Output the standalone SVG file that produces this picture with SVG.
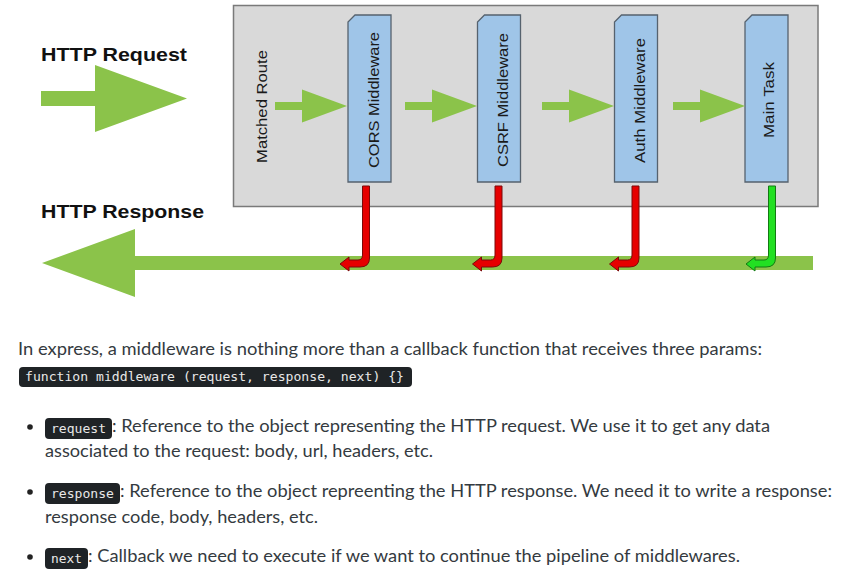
<svg xmlns="http://www.w3.org/2000/svg" width="855" height="583" viewBox="0 0 855 583">
<style>
.big{font-family:"Liberation Sans",Arial,sans-serif;font-weight:bold;font-size:19px;fill:#111}
.box{fill:#9fc5e8;stroke:#56626e;stroke-width:1.3}
.lbl{font-family:"Liberation Sans",Arial,sans-serif;font-size:15.5px;fill:#1a1a1a}
.arr{fill:#8bc34a}
.txt{font-family:Lato,"Open Sans",sans-serif;font-size:17px;fill:#343a40}
.code{font-family:"DejaVu Sans Mono","Liberation Mono",monospace;font-size:13px;fill:#e8e8e8}
.pill{fill:#1f2326}
.red{fill:#e60000;stroke:#7a0a0a;stroke-width:1}
.grn{fill:#22e022;stroke:#137a13;stroke-width:1}
</style>
<defs>
<path id="hook" d="M-3.5,0 H3.5 V72 Q3.5,81 -6,81 H-17 V85 L-26,78 L-17,71 V74 H-8 Q-3.5,74 -3.5,69 Z"/>
<path id="mw" d="M7,0 H43 V167 H0 V7 Z"/>
<path id="sarr" d="M0,-4 H27 V-16.5 L72,0 L27,16.5 V4 H0 Z"/>
</defs>
<rect width="855" height="583" fill="#fff"/>

<g id="http-request">
<text class="big" x="41" y="60.5" textLength="146" lengthAdjust="spacingAndGlyphs">HTTP Request</text>
<path class="arr" d="M41,91 H95 V65 L187,98.5 L95,132 V106 H41 Z"/>
</g>
<g id="http-response">
<text class="big" x="41" y="218" textLength="163" lengthAdjust="spacingAndGlyphs">HTTP Response</text>
<path class="arr" d="M42,263 L135,229 V256 H813 V270 H135 V297 Z"/>
</g>

<g id="pipeline">
<rect x="233.5" y="5.5" width="584.5" height="201" fill="#d9d9d9" stroke="#7a7a7a" stroke-width="1.5"/>
</g>
<g id="matched-route">
<text class="lbl" transform="translate(266.5,106.5) rotate(-90)" text-anchor="middle" textLength="113" lengthAdjust="spacingAndGlyphs">Matched Route</text>
</g>
<g id="cors">
<use href="#mw" class="box" x="348" y="15"/>
<text class="lbl" transform="translate(378.5,100) rotate(-90)" text-anchor="middle" textLength="136" lengthAdjust="spacingAndGlyphs">CORS Middleware</text>
</g>
<g id="csrf">
<use href="#mw" class="box" x="477.5" y="15"/>
<text class="lbl" transform="translate(507.5,100) rotate(-90)" text-anchor="middle" textLength="134" lengthAdjust="spacingAndGlyphs">CSRF Middleware</text>
</g>
<g id="auth">
<use href="#mw" class="box" x="614.5" y="15"/>
<text class="lbl" transform="translate(644.5,100.5) rotate(-90)" text-anchor="middle" textLength="125" lengthAdjust="spacingAndGlyphs">Auth Middleware</text>
</g>
<g id="main-task">
<use href="#mw" class="box" x="745" y="15"/>
<text class="lbl" transform="translate(774,100) rotate(-90)" text-anchor="middle" textLength="76" lengthAdjust="spacingAndGlyphs">Main Task</text>
</g>

<g id="connectors">
<use href="#sarr" class="arr" x="275" y="106"/>
<use href="#sarr" class="arr" x="405" y="106"/>
<use href="#sarr" class="arr" x="542" y="106"/>
<use href="#sarr" class="arr" x="673" y="106"/>
<use href="#hook" class="red" x="366" y="186"/>
<use href="#hook" class="red" x="498.5" y="186"/>
<use href="#hook" class="red" x="635.5" y="186"/>
<use href="#hook" class="grn" x="772" y="186"/>
</g>

<g id="description">
<text class="txt" x="18" y="355" textLength="744" lengthAdjust="spacingAndGlyphs">In express, a middleware is nothing more than a callback function that receives three params:</text>
<rect class="pill" x="19" y="367" width="393" height="20" rx="4"/>
<text class="code" x="25" y="381" textLength="379" lengthAdjust="spacingAndGlyphs">function middleware (request, response, next) {}</text>

<circle cx="30" cy="427" r="2.8" fill="#222"/>
<rect class="pill" x="45" y="418" width="67" height="21" rx="4"/>
<text class="code" x="51" y="433" textLength="55" lengthAdjust="spacingAndGlyphs">request</text>
<text class="txt" x="112" y="432" textLength="658" lengthAdjust="spacingAndGlyphs">: Reference to the object representing the HTTP request. We use it to get any data</text>
<text class="txt" x="45" y="457" textLength="388" lengthAdjust="spacingAndGlyphs">associated to the request: body, url, headers, etc.</text>

<circle cx="30" cy="492" r="2.8" fill="#222"/>
<rect class="pill" x="45" y="483" width="75" height="21" rx="4"/>
<text class="code" x="51" y="498" textLength="63" lengthAdjust="spacingAndGlyphs">response</text>
<text class="txt" x="120" y="497" textLength="712" lengthAdjust="spacingAndGlyphs">: Reference to the object repreenting the HTTP response. We need it to write a response:</text>
<text class="txt" x="45" y="523" textLength="273" lengthAdjust="spacingAndGlyphs">response code, body, headers, etc.</text>

<circle cx="30" cy="557" r="2.8" fill="#222"/>
<rect class="pill" x="45" y="548" width="43" height="21" rx="4"/>
<text class="code" x="51" y="563" textLength="31" lengthAdjust="spacingAndGlyphs">next</text>
<text class="txt" x="88" y="562" textLength="652" lengthAdjust="spacingAndGlyphs">: Callback we need to execute if we want to continue the pipeline of middlewares.</text>
</g>
</svg>
